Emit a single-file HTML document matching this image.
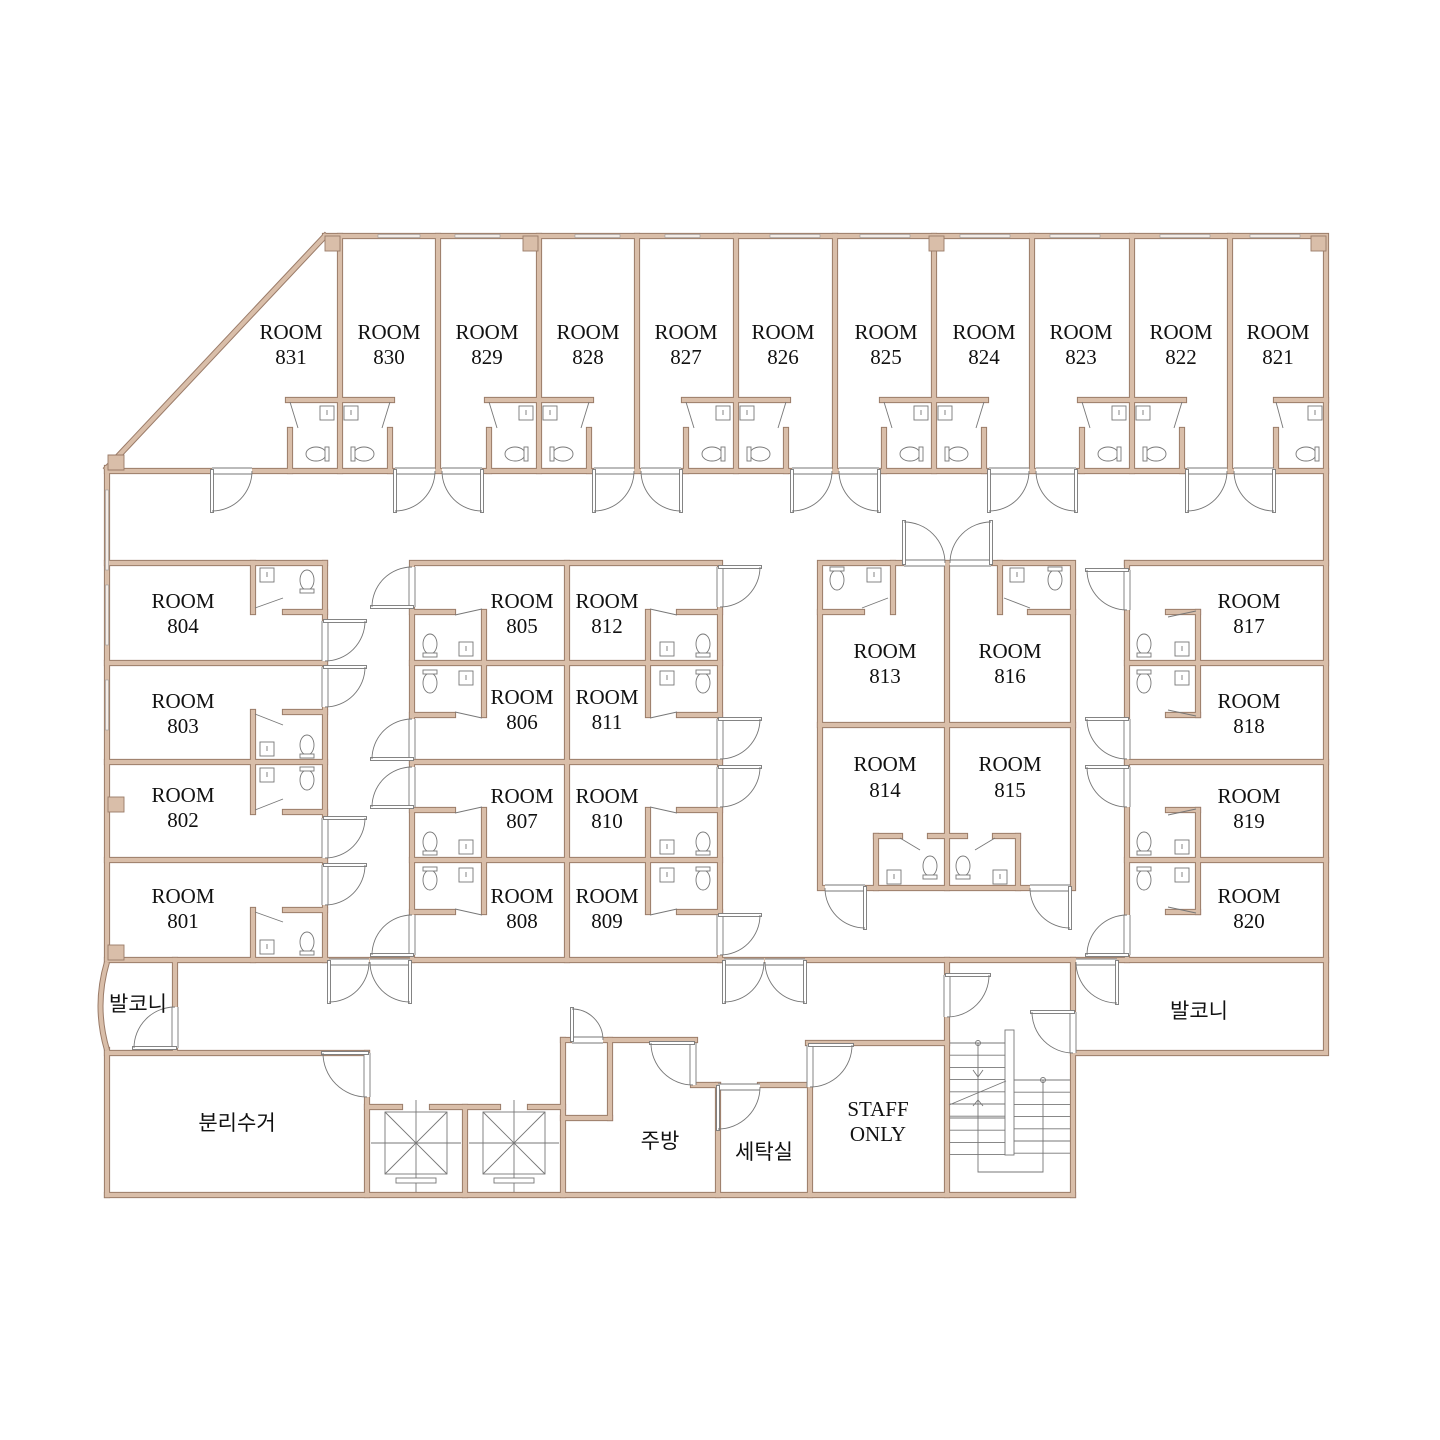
<!DOCTYPE html>
<html><head><meta charset="utf-8"><style>
html,body{margin:0;padding:0;background:#fff;}
svg{display:block}
text{font-family:"Liberation Serif","Noto Serif CJK SC",serif;font-size:21px;fill:#111;text-anchor:middle}
.k{font-family:"Liberation Sans","Noto Sans CJK KR",sans-serif;font-size:21px}
</style></head><body>
<svg id="s" width="1440" height="1440" viewBox="0 0 1440 1440" xmlns="http://www.w3.org/2000/svg">
<defs><g id="W" fill="none" stroke-linecap="square"></g></defs>
<use href="#W" stroke="#9a7b68" stroke-width="6.2"/>
<use href="#W" stroke="#d9bea9" stroke-width="4.2"/>
<g id="F" fill="#fff" stroke="#777" stroke-width="0.9"></g>
<g>
<text x="291" y="339">ROOM</text><text x="291" y="364">831</text>
<text x="389" y="339">ROOM</text><text x="389" y="364">830</text>
<text x="487" y="339">ROOM</text><text x="487" y="364">829</text>
<text x="588" y="339">ROOM</text><text x="588" y="364">828</text>
<text x="686" y="339">ROOM</text><text x="686" y="364">827</text>
<text x="783" y="339">ROOM</text><text x="783" y="364">826</text>
<text x="886" y="339">ROOM</text><text x="886" y="364">825</text>
<text x="984" y="339">ROOM</text><text x="984" y="364">824</text>
<text x="1081" y="339">ROOM</text><text x="1081" y="364">823</text>
<text x="1181" y="339">ROOM</text><text x="1181" y="364">822</text>
<text x="1278" y="339">ROOM</text><text x="1278" y="364">821</text>

<text x="183" y="608">ROOM</text><text x="183" y="633">804</text>
<text x="183" y="708">ROOM</text><text x="183" y="733">803</text>
<text x="183" y="802">ROOM</text><text x="183" y="827">802</text>
<text x="183" y="903">ROOM</text><text x="183" y="928">801</text>

<text x="522" y="608">ROOM</text><text x="522" y="633">805</text>
<text x="607" y="608">ROOM</text><text x="607" y="633">812</text>
<text x="522" y="704">ROOM</text><text x="522" y="729">806</text>
<text x="607" y="704">ROOM</text><text x="607" y="729">811</text>
<text x="522" y="803">ROOM</text><text x="522" y="828">807</text>
<text x="607" y="803">ROOM</text><text x="607" y="828">810</text>
<text x="522" y="903">ROOM</text><text x="522" y="928">808</text>
<text x="607" y="903">ROOM</text><text x="607" y="928">809</text>

<text x="885" y="658">ROOM</text><text x="885" y="683">813</text>
<text x="1010" y="658">ROOM</text><text x="1010" y="683">816</text>
<text x="885" y="771">ROOM</text><text x="885" y="797">814</text>
<text x="1010" y="771">ROOM</text><text x="1010" y="797">815</text>

<text x="1249" y="608">ROOM</text><text x="1249" y="633">817</text>
<text x="1249" y="708">ROOM</text><text x="1249" y="733">818</text>
<text x="1249" y="803">ROOM</text><text x="1249" y="828">819</text>
<text x="1249" y="903">ROOM</text><text x="1249" y="928">820</text>

<text class="k" x="138" y="1011">발코니</text>
<text class="k" x="1199" y="1018">발코니</text>
<text class="k" x="237" y="1130">분리수거</text>
<text class="k" x="660" y="1148">주방</text>
<text class="k" x="764" y="1159">세탁실</text>
<text x="878" y="1116">STAFF</text><text x="878" y="1141">ONLY</text>
</g>
</svg>
<script>
var NS="http://www.w3.org/2000/svg";
var W=document.getElementById("W"),F=document.getElementById("F");
function el(p,tag,a){var e=document.createElementNS(NS,tag);for(var k in a)e.setAttribute(k,a[k]);p.appendChild(e);return e;}
function w(d){el(W,"path",{d:d});}
function L(x1,y1,x2,y2){w("M"+x1+","+y1+"L"+x2+","+y2);}
w("M325,236L1326,236L1326,1053L1073,1053");
L(325,236,107,468);L(107,468,107,960);L(107,1050,107,1195);
L(107,1195,1073,1195);L(1073,960,1073,1195);
L(107,471,1326,471);
[340,438,539,637,736,835,934,1032,1132,1230].forEach(function(x){L(x,236,x,471);});
[340,539,736,934,1132].forEach(function(p){L(p-52,400,p+52,400);L(p-50,430,p-50,471);L(p+50,430,p+50,471);});
L(1276,400,1326,400);L(1276,430,1276,471);
L(325,563,325,960);
[563,663,762,860].forEach(function(y){L(107,y,325,y);});
L(107,960,1326,960);
L(253,563,253,612);L(285,612,325,612);
L(253,712,253,812);L(285,712,325,712);L(285,812,325,812);
L(253,910,253,960);L(285,910,325,910);
w("M412,563H720V960M412,563V960");L(567,563,567,960);
[663,762,860].forEach(function(y){L(412,y,720,y);});
[[612,715],[810,912]].forEach(function(r){
 L(412,r[0],453,r[0]);L(412,r[1],453,r[1]);L(484,r[0],484,r[1]);
 L(679,r[0],720,r[0]);L(679,r[1],720,r[1]);L(648,r[0],648,r[1]);});
w("M820,563H1073V888H820Z");L(947,563,947,888);L(820,725,1073,725);
L(893,563,893,612);L(820,612,862,612);
L(1000,563,1000,612);L(1030,612,1073,612);
L(876,836,876,888);L(1018,836,1018,888);L(876,836,900,836);L(930,836,965,836);L(995,836,1018,836);
L(1127,563,1326,563);L(1127,563,1127,960);
[663,762,860].forEach(function(y){L(1127,y,1326,y);});
[[612,715],[810,912]].forEach(function(r){L(1168,r[0],1198,r[0]);L(1168,r[1],1198,r[1]);L(1198,r[0],1198,r[1]);});
L(175,960,175,1050);L(107,1053,367,1053);L(367,1053,367,1195);
L(367,1107,400,1107);L(432,1107,498,1107);L(530,1107,563,1107);L(465,1107,465,1195);
L(563,1040,563,1195);L(563,1040,572,1040);L(603,1040,695,1040);L(610,1040,610,1118);L(563,1118,610,1118);
L(693,1085,718,1085);L(718,1085,718,1195);L(760,1085,810,1085);L(810,1085,810,1195);
L(808,1043,947,1043);L(947,960,947,1195);
el(F,"path",{d:"M107,962Q94,1006 107,1050",stroke:"#9a7b68","stroke-width":"6",fill:"none"});
el(F,"path",{d:"M107,962Q94,1006 107,1050",stroke:"#d9bea9","stroke-width":"4",fill:"none"});
[[325,236],[523,236],[929,236],[1311,236]].forEach(function(c){el(F,"rect",{x:c[0],y:c[1],width:15,height:15,fill:"#d9bea9",stroke:"#9a7b68"});});
el(F,"rect",{x:108,y:945,width:16,height:15,fill:"#d9bea9",stroke:"#9a7b68"});
el(F,"rect",{x:108,y:797,width:16,height:15,fill:"#d9bea9",stroke:"#9a7b68"});
el(F,"path",{d:"M108,455L124,455L124,470L108,470Z",fill:"#d9bea9",stroke:"#9a7b68"});
function door(hx,hy,jx,jy,dx,dy){
 var ww=Math.hypot(jx-hx,jy-hy);var lx=hx+dx*ww,ly=hy+dy*ww;
 var ax=lx-hx,ay=ly-hy,bx=jx-hx,by=jy-hy;var sw=(ax*by-ay*bx)>0?1:0;
 var rx=Math.min(hx,jx),ry=Math.min(hy,jy);
 if(hy==jy)el(F,"rect",{x:rx,y:hy-3.5,width:ww,height:7,stroke:"none"});
 else el(F,"rect",{x:hx-3.5,y:ry,width:7,height:ww,stroke:"none"});
 if(hy==jy){el(F,"line",{x1:rx,y1:hy-3,x2:rx+ww,y2:hy-3});el(F,"line",{x1:rx,y1:hy+3,x2:rx+ww,y2:hy+3});}
 else{el(F,"line",{x1:hx-3,y1:ry,x2:hx-3,y2:ry+ww});el(F,"line",{x1:hx+3,y1:ry,x2:hx+3,y2:ry+ww});}
 el(F,"rect",{x:Math.min(hx,lx)-1.5,y:Math.min(hy,ly)-1.5,width:Math.abs(lx-hx)+3,height:Math.abs(ly-hy)+3});
 el(F,"path",{d:"M"+lx+","+ly+"A"+ww+","+ww+" 0 0 "+sw+" "+jx+","+jy,fill:"none"});
}
door(212,471,252,471,0,1);
[438,637,835,1032,1230].forEach(function(p){door(p-43,471,p-3,471,0,1);door(p+44,471,p+4,471,0,1);});
door(325,621,325,661,1,0);door(325,667,325,707,1,0);door(325,818,325,858,1,0);door(325,865,325,905,1,0);
door(412,607,412,567,-1,0);door(412,759,412,719,-1,0);door(412,807,412,767,-1,0);door(412,955,412,915,-1,0);
door(720,567,720,607,1,0);door(720,719,720,759,1,0);door(720,767,720,807,1,0);door(720,915,720,955,1,0);
door(904,563,945,563,0,-1);door(991,563,950,563,0,-1);
door(865,888,825,888,0,1);door(1070,888,1030,888,0,1);
door(1127,570,1127,610,-1,0);door(1127,719,1127,759,-1,0);door(1127,767,1127,807,-1,0);door(1127,955,1127,915,-1,0);
door(329,962,369,962,0,1);door(410,962,370,962,0,1);
door(724,962,764,962,0,1);door(805,962,765,962,0,1);
door(947,975,947,1017,1,0);door(1117,962,1076,962,0,1);door(1073,1012,1073,1053,-1,0);
door(175,1048,175,1007,-1,0);door(367,1053,367,1097,-1,0);
door(572,1040,603,1040,0,-1);door(693,1043,693,1085,-1,0);door(718,1087,760,1087,0,1);door(810,1045,810,1087,1,0);
[[378,420],[455,500],[575,620],[665,700],[770,820],[860,910],[960,1010],[1050,1100],[1160,1210],[1250,1300]].forEach(function(a){
 el(F,"rect",{x:a[0],y:234.5,width:a[1]-a[0],height:3,fill:"#f4ece6",stroke:"#999","stroke-width":"0.6"});});
[[490,570],[585,645],[680,730]].forEach(function(a){
 el(F,"rect",{x:105.5,y:a[0],width:3,height:a[1]-a[0],fill:"#f4ece6",stroke:"#999","stroke-width":"0.6"});});
function sink(x,y){el(F,"rect",{x:x,y:y,width:14,height:14});el(F,"line",{x1:x+7,y1:y+4,x2:x+7,y2:y+9});}
function toiletH(x,y,d){el(F,"ellipse",{cx:x,cy:y,rx:10,ry:7});el(F,"rect",{x:d>0?x+9:x-13,y:y-7,width:4,height:14});}
function toiletV(x,y,d){el(F,"ellipse",{cx:x,cy:y,rx:7,ry:10});el(F,"rect",{x:x-7,y:d>0?y+9:y-13,width:14,height:4});}
function bdoor(x1,y1,x2,y2){el(F,"line",{x1:x1,y1:y1,x2:x2,y2:y2});}
[340,539,736,934,1132].forEach(function(p){
 sink(p-20,406);sink(p+4,406);toiletH(p-24,454,1);toiletH(p+24,454,-1);
 bdoor(p-50,402,p-42,428);bdoor(p+50,402,p+42,428);});
sink(1308,406);toiletH(1306,454,1);bdoor(1276,402,1283,428);
sink(260,568);toiletV(307,580,1);bdoor(255,608,283,598);
sink(260,742);toiletV(307,745,1);sink(260,768);toiletV(307,780,-1);bdoor(255,714,283,725);bdoor(255,810,283,799);
sink(260,940);toiletV(307,942,1);bdoor(255,912,283,922);
[[612,715],[810,912]].forEach(function(r){
 toiletV(430,r[0]+32,1);toiletV(430,r[1]-32,-1);sink(459,r[0]+30);sink(459,r[1]-44);
 bdoor(455,r[0]+3,482,r[0]-3);bdoor(455,r[1]-3,482,r[1]+3);
 toiletV(703,r[0]+32,1);toiletV(703,r[1]-32,-1);sink(660,r[0]+30);sink(660,r[1]-44);
 bdoor(677,r[0]+3,650,r[0]-3);bdoor(677,r[1]-3,650,r[1]+3);
 toiletV(1144,r[0]+32,1);toiletV(1144,r[1]-32,-1);sink(1175,r[0]+30);sink(1175,r[1]-44);
 bdoor(1168,r[0]+5,1196,r[0]-1);bdoor(1168,r[1]-5,1196,r[1]+1);});
toiletV(837,580,-1);sink(867,568);bdoor(862,608,888,598);
toiletV(1055,580,-1);sink(1010,568);bdoor(1030,608,1004,598);
sink(887,870);toiletV(930,866,1);toiletV(963,866,1);sink(993,870);
bdoor(900,838,920,850);bdoor(995,838,975,850);
[[385,1112],[483,1112]].forEach(function(e){var x=e[0],y=e[1];
 el(F,"rect",{x:x,y:y,width:62,height:62});
 el(F,"line",{x1:x,y1:y,x2:x+62,y2:y+62});el(F,"line",{x1:x+62,y1:y,x2:x,y2:y+62});
 el(F,"line",{x1:x+31,y1:y-12,x2:x+31,y2:y+80});el(F,"line",{x1:x-14,y1:y+31,x2:x+76,y2:y+31});
 el(F,"rect",{x:x+11,y:y+66,width:40,height:5});});
var G=el(F,"g",{fill:"none"});
for(var y=1043;y<=1120;y+=12.2)el(G,"line",{x1:950,y1:y,x2:1005,y2:y});
for(var y=1080;y<=1156;y+=12.2)el(G,"line",{x1:1013,y1:y,x2:1070,y2:y});
for(var y=1118;y<=1156;y+=12.2)el(G,"line",{x1:950,y1:y,x2:1005,y2:y});
el(G,"rect",{x:1005,y:1030,width:9,height:125,fill:"#fff"});
el(G,"path",{d:"M978,1043V1172H1043V1080"});
el(G,"path",{d:"M949,1105L1006,1081"});
el(G,"circle",{cx:978,cy:1043,r:2.5});el(G,"circle",{cx:1043,cy:1080,r:2.5});
el(G,"path",{d:"M973,1070L978,1077L983,1070M973,1106L978,1100L983,1106"});
</script>
</body></html>
